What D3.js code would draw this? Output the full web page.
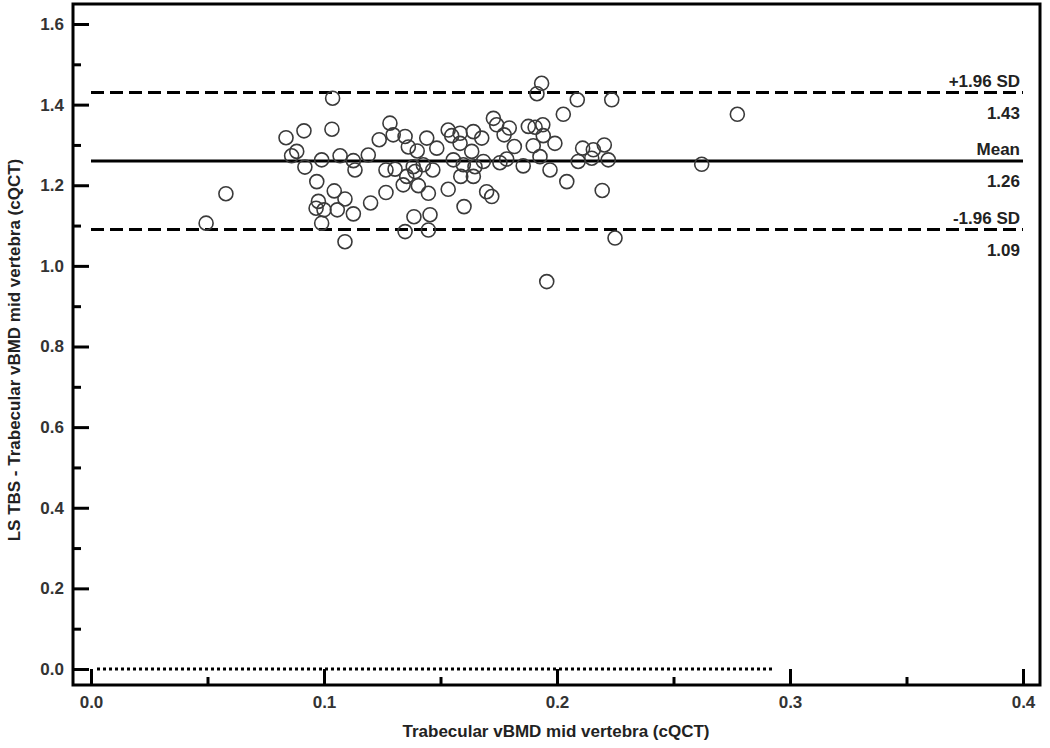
<!DOCTYPE html>
<html><head><meta charset="utf-8">
<script src="https://cdn.jsdelivr.net/npm/d3@7"></script>
<style>
body{margin:0;background:#fff;}
svg{display:block;}
</style></head>
<body>
<svg id="chart" width="1050" height="748"></svg>
<script>
// Data (x: trabecular vBMD, y: difference)
const xVals = [0.1037,0.0837,0.0914,0.1034,0.0883,0.0861,0.0918,0.0990,0.1069,0.1126,0.1133,0.0969,0.0579,0.1044,0.1090,0.0976,0.0966,0.1000,0.1057,0.1126,0.0494,0.0990,0.1090,
0.1283,0.1297,0.1237,0.1348,0.1362,0.1400,0.1441,0.1484,0.1190,0.1533,0.1548,0.1584,0.1584,0.1641,0.1677,0.1634,0.1555,0.1598,0.1648,0.1684,0.1755,0.1784,0.1855,0.1727,0.1741,0.1795,0.1773,0.1817,0.1877,0.1906,0.1898,0.1266,0.1305,0.1383,0.1426,0.1467,0.1355,0.1340,0.1405,0.1448,0.1391,0.1587,0.1641,0.1533,0.1266,0.1200,0.1698,0.1720,0.1601,0.1386,0.1455,0.1348,0.1448,
0.1934,0.1914,0.2087,0.2235,0.2027,0.2774,0.1939,0.1941,0.1991,0.2110,0.2156,0.2203,0.2091,0.2149,0.2220,0.1927,0.1970,0.2042,0.2194,0.2621,0.2249,0.1956];
const yVals = [1.416,1.318,1.335,1.339,1.284,1.273,1.245,1.263,1.273,1.261,1.238,1.209,1.179,1.186,1.166,1.160,1.143,1.139,1.139,1.129,1.106,1.106,1.060,
1.354,1.325,1.313,1.321,1.295,1.285,1.317,1.292,1.275,1.337,1.323,1.329,1.304,1.333,1.317,1.284,1.263,1.251,1.246,1.259,1.256,1.265,1.248,1.366,1.350,1.342,1.325,1.296,1.346,1.344,1.298,1.238,1.240,1.246,1.251,1.238,1.222,1.201,1.199,1.180,1.234,1.222,1.222,1.190,1.182,1.156,1.184,1.172,1.147,1.122,1.127,1.085,1.089,
1.453,1.427,1.412,1.412,1.376,1.376,1.350,1.323,1.304,1.292,1.288,1.300,1.259,1.267,1.263,1.271,1.238,1.209,1.187,1.252,1.069,0.961];

const refNames = ["+1.96 SD","Mean","-1.96 SD"];
const refValues = [1.43, 1.26, 1.09];
const refLabels = ["1.43","1.26","1.09"];
const refDash = ["13,6", null, "13,6"];

const xMajorTicks = [0.0,0.1,0.2,0.3,0.4];
const xMinorTicks = [0.05,0.15,0.25,0.35];
const yMajorTicks = [0.0,0.2,0.4,0.6,0.8,1.0,1.2,1.4,1.6];
const yMinorTicks = [0.1,0.3,0.5,0.7,0.9,1.1,1.3,1.5];
const zeroLineEnd = 0.293;

const xTitle = "Trabecular vBMD mid vertebra (cQCT)";
const yTitle = "LS TBS - Trabecular vBMD mid vertebra (cQCT)";

const svg = d3.select("#chart");
const frame = {left:73, right:1040, top:4, bottom:685};
const x = d3.scaleLinear().domain([0,0.4]).range([91,1023]);
const y = d3.scaleLinear().domain([0,1.6]).range([669,24]);

const tickFont = "bold 17px 'Liberation Sans', Arial, sans-serif";
const labFont = "bold 17px 'Liberation Sans', Arial, sans-serif";

// y axis (ticks inward)
const gy = svg.append("g").attr("transform",`translate(${frame.left},0)`);
gy.call(d3.axisLeft(y).tickValues(yMajorTicks).tickSize(-16).tickPadding(9).tickFormat(d3.format(".1f")));
gy.append("g").call(d3.axisLeft(y).tickValues(yMinorTicks).tickSize(-8).tickFormat(""));
gy.selectAll(".domain").remove();
gy.selectAll("line").attr("stroke","#000").attr("stroke-width",3);
gy.selectAll("text").style("font",tickFont).attr("fill","#333");

// x axis (ticks inward)
const gx = svg.append("g").attr("transform",`translate(0,${frame.bottom})`);
gx.call(d3.axisBottom(x).tickValues(xMajorTicks).tickSize(-16).tickPadding(10).tickFormat(d3.format(".1f")));
gx.append("g").call(d3.axisBottom(x).tickValues(xMinorTicks).tickSize(-8).tickFormat(""));
gx.selectAll(".domain").remove();
gx.selectAll("line").attr("stroke","#000").attr("stroke-width",3);
gx.selectAll("text").style("font",tickFont).attr("fill","#333").attr("dy","0.75em");

// zero dotted line
svg.append("line")
  .attr("x1",x(0)+6).attr("x2",x(zeroLineEnd))
  .attr("y1",y(0)).attr("y2",y(0))
  .attr("stroke","#000").attr("stroke-width",3).attr("stroke-dasharray","3,3");

// reference lines
refValues.forEach((v,i)=>{
  svg.append("line")
    .attr("x1",x(0)).attr("x2",x(0.4))
    .attr("y1",y(v)).attr("y2",y(v))
    .attr("stroke","#000").attr("stroke-width",3)
    .attr("stroke-dasharray",refDash[i]);
  svg.append("text").attr("x",x(0.4)-3).attr("y",y(v)-6)
    .attr("text-anchor","end").style("font",labFont).attr("fill","#222").text(refNames[i]);
  svg.append("text").attr("x",x(0.4)-3).attr("y",y(v)+26)
    .attr("text-anchor","end").style("font",labFont).attr("fill","#222").text(refLabels[i]);
});

// points
svg.append("g").selectAll("circle")
  .data(xVals.map((d,i)=>[d,yVals[i]]))
  .join("circle")
  .attr("cx",d=>x(d[0])).attr("cy",d=>y(d[1])).attr("r",7)
  .attr("fill","none").attr("stroke","#3a3a3a").attr("stroke-width",1.6);

// frame
svg.append("rect")
  .attr("x",frame.left).attr("y",frame.top)
  .attr("width",frame.right-frame.left).attr("height",frame.bottom-frame.top)
  .attr("fill","none").attr("stroke","#000").attr("stroke-width",3);

// titles
svg.append("text").attr("x",556).attr("y",737).attr("text-anchor","middle")
  .style("font",labFont).attr("fill","#222").text(xTitle);
svg.append("text").attr("transform","translate(20,350) rotate(-90)").attr("text-anchor","middle")
  .style("font",labFont).attr("fill","#222").text(yTitle);
</script>
</body></html>
